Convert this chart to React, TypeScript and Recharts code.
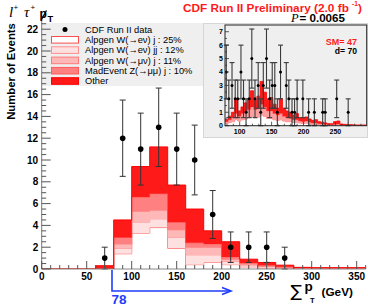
import React from 'react';
import { ComposedChart, Area, Scatter, XAxis, YAxis, ErrorBar } from 'recharts';

// ---------- main histogram (20 GeV bins, lower edges) ----------
const binEdges = [0, 20, 40, 60, 80, 100, 120, 140, 160, 180, 200, 220, 240, 260, 280, 300, 320, 340];
const lastEdge = 360;
const wenuj = [0, 0, 0, 0, 1.4, 3.3, 3.8, 1.9, 0.4, 0.6, 0.4, 0.2, 0.1, 0.05, 0.03, 0.02, 0.02, 0.02];
const wenujj = [0, 0, 0, 0, 0.5, 1.0, 0.8, 1.0, 0.9, 0.7, 0.3, 0.15, 0.1, 0.05, 0.02, 0.02, 0.02, 0.02];
const wmunuj = [0, 0, 0, 0, 0.4, 1.0, 0.8, 0.7, 0.7, 0.7, 0.2, 0.1, 0.05, 0.05, 0.02, 0.02, 0.02, 0.02];
const zmumuj = [0, 0, 0, 0, 0.6, 1.3, 1.5, 0.7, 0.4, 0.3, 0.2, 0.1, 0.1, 0.05, 0.02, 0.02, 0.02, 0.02];
const other = [0, 0, 0, 0.3, 1.6, 2.8, 4.3, 3.4, 3.1, 1.2, 1.4, 0.35, 0.25, 0.15, 0.06, 0.04, 0.04, 0.04];

const dataX = [70, 90, 110, 130, 150, 170, 190, 210, 230, 250, 270];
const dataY = [1, 12, 11, 13, 11, 10, 5, 2, 2, 2, 1];
const dataErr = [1.0, 3.5, 3.3, 3.6, 3.3, 3.2, 2.2, 1.4, 1.4, 1.4, 1.0];

const xMajor = [0, 50, 100, 150, 200, 250, 300, 350];
const yMajor = [0, 2, 4, 6, 8, 10, 12, 14, 16, 18, 20, 22];

// ---------- inset (5 GeV bins) ----------
const insetEdges = [77, 82, 87, 92, 97, 102, 107, 112, 117, 122, 127, 132, 137, 142, 147, 152, 157, 162, 167, 172, 177, 182, 187, 192, 197, 202, 207, 212, 217, 222, 227, 232, 237, 242, 247, 252, 257, 262, 267, 272, 277, 282, 287, 292, 297];
const insetLastEdge = 302;
const insetWhite = [0.15, 0.25, 0.3, 0.45, 0.35, 0.45, 0.5, 0.6, 0.7, 0.6, 0.65, 0.8, 0.7, 0.55, 0.55, 0.45, 0.4, 0.45, 0.35, 0.3, 0.3, 0.25, 0.25, 0.2, 0.15, 0.2, 0.15, 0.1, 0.1, 0.08, 0.07, 0.05, 0.04, 0.04, 0.05, 0.06, 0.03, 0.03, 0.02, 0.02, 0.02, 0.01, 0.01, 0.01, 0.01];
const insetPink = [0.15, 0.2, 0.3, 0.45, 0.35, 0.45, 0.5, 0.6, 0.7, 0.6, 0.65, 0.8, 0.7, 0.55, 0.55, 0.45, 0.4, 0.45, 0.35, 0.3, 0.25, 0.2, 0.2, 0.15, 0.15, 0.15, 0.1, 0.1, 0.1, 0.07, 0.06, 0.05, 0.04, 0.04, 0.05, 0.07, 0.03, 0.02, 0.02, 0.02, 0.01, 0.01, 0.01, 0.01, 0.01];
const insetOther = [0.15, 0.25, 0.4, 1.1, 0.4, 0.5, 0.7, 0.8, 1.2, 0.7, 0.9, 1.7, 1.1, 0.9, 1.0, 0.7, 0.5, 1.1, 0.6, 0.5, 0.45, 0.35, 0.45, 0.25, 0.25, 0.3, 0.25, 0.2, 0.25, 0.15, 0.12, 0.1, 0.07, 0.07, 0.2, 0.22, 0.06, 0.05, 0.04, 0.04, 0.03, 0.03, 0.03, 0.03, 0.03];

const insetPtX = [79, 83, 88, 93, 97, 102, 106, 110, 115, 119, 124, 129, 133, 137, 142, 147, 151, 155, 159, 164, 173, 177, 182, 186, 190, 199, 208, 217, 230, 234, 252, 270];
const insetPtY = [4, 2, 3, 2, 2, 4, 2, 1, 2, 5, 2, 3, 1, 3, 5, 2, 3, 3, 1, 4, 3, 2, 1, 1, 2, 2, 1, 1, 1, 1, 2, 1];
const insetPtErr = [2.0, 1.4, 1.7, 1.4, 1.4, 2.0, 1.4, 1.0, 1.4, 2.2, 1.4, 1.7, 1.0, 1.7, 2.2, 1.4, 1.7, 1.7, 1.0, 2.0, 1.7, 1.4, 1.0, 1.0, 1.4, 1.4, 1.0, 1.0, 1.0, 1.0, 1.4, 1.0];

const insetXMajor = [100, 150, 200, 250];
const insetYMajor = [0, 1, 2, 3, 4, 5, 6, 7];

const legendLabels = [
  'CDF Run II data',
  'Alpgen W(\u2192e\u03BD) j : 25%',
  'Alpgen W(\u2192e\u03BD) jj : 12%',
  'Alpgen W(\u2192\u03BC\u03BD) j : 11%',
  'MadEvent Z(\u2192\u03BC\u03BC) j : 10%',
  'Other',
];

// ---------- styles ----------
const FONT = "'Liberation Sans', Arial, Helvetica, sans-serif";
const SERIF = "'Liberation Serif', 'Times New Roman', serif";
const layerFill = ['#ffffff', '#ffe0e0', '#ffb8b8', '#ff8080', '#ff1a1a'];
const layerStroke = ['#ff4d4d', '#ff9090', '#ff7a7a', '#ff5a5a', '#ff0000'];

// ---------- derived tables ----------
const histRows = [...binEdges, lastEdge].map((e, i) => {
  const k = Math.min(i, binEdges.length - 1);
  return { x: e, a: wenuj[k], b: wenujj[k], c: wmunuj[k], d: zmumuj[k], o: other[k] };
});
const points = dataX.map((x, i) => ({ x, y: dataY[i], err: dataErr[i] }));

const insetRows = [...insetEdges, insetLastEdge].map((e, i) => {
  const k = Math.min(i, insetEdges.length - 1);
  return { x: e, w: insetWhite[k], p: insetPink[k], o: insetOther[k] };
});
const insetPoints = insetPtX.map((x, i) => ({ x, y: insetPtY[i], err: insetPtErr[i] }));

const xTicks: number[] = [];
for (let v = 0; v <= 360; v += 10) xTicks.push(v);
const yTicks: number[] = [];
for (let v = 0; v <= 22.5; v += 0.5) yTicks.push(v);
const ixTicks: number[] = [];
for (let v = 80; v <= 290; v += 10) ixTicks.push(v);
const iyTicks: number[] = [];
for (let v = 0; v <= 7.0001; v += 0.5) iyTicks.push(Math.round(v * 10) / 10);

const TICK = '#555';

const MainXTick = (props: any) => {
  const { x, y, payload } = props;
  const v = payload.value;
  const major = xMajor.includes(v);
  return (
    <g>
      <line x1={x} x2={x} y1={y} y2={y - (major ? 8 : 4)} stroke={TICK} strokeWidth={1} />
      {major && (
        <text x={x} y={y + 11} textAnchor="middle" fontSize={10} fontWeight="bold" fontFamily={FONT} fill="#000">
          {v}
        </text>
      )}
    </g>
  );
};

const MainYTick = (props: any) => {
  const { x, y, payload } = props;
  const v = payload.value;
  const major = yMajor.includes(v);
  return (
    <g>
      <line x1={x} x2={x + (major ? 9 : 4.5)} y1={y} y2={y} stroke={TICK} strokeWidth={1} />
      {major && (
        <text x={x - 3.5} y={y + 3.6} textAnchor="end" fontSize={10} fontWeight="bold" fontFamily={FONT} fill="#000">
          {v}
        </text>
      )}
    </g>
  );
};

const InsetXTick = (props: any) => {
  const { x, y, payload } = props;
  const v = payload.value;
  const major = insetXMajor.includes(v);
  return (
    <g>
      <line x1={x} x2={x} y1={y} y2={y - (major ? 4 : 2)} stroke="#333" strokeWidth={0.8} />
      {major && (
        <text x={x} y={y + 7.8} textAnchor="middle" fontSize={7} fontWeight="bold" fontFamily={FONT} fill="#000">
          {v}
        </text>
      )}
    </g>
  );
};

const InsetYTick = (props: any) => {
  const { x, y, payload } = props;
  const v = payload.value;
  const major = insetYMajor.includes(v);
  return (
    <g>
      <line x1={x} x2={x + (major ? 4 : 2)} y1={y} y2={y} stroke="#333" strokeWidth={0.8} />
      {major && (
        <text x={x - 2} y={y + 2.5} textAnchor="end" fontSize={7} fontWeight="bold" fontFamily={FONT} fill="#000">
          {v}
        </text>
      )}
    </g>
  );
};

const BigDot = (p: any) => <circle cx={p.cx} cy={p.cy} r={2.8} fill="#000" />;
const SmallDot = (p: any) => <circle cx={p.cx} cy={p.cy} r={1.5} fill="#000" />;

const abs = (l: number, t: number, w: number, h: number): React.CSSProperties => ({
  position: 'absolute',
  left: l,
  top: t,
  width: w,
  height: h,
});

export default function App() {
  const keys = ['a', 'b', 'c', 'd', 'o'];
  return (
    <div style={{ ...abs(0, 0, 368, 305), background: '#fff', overflow: 'hidden' }}>
      {/* legend background (under the chart so the axis stays visible) */}
      <svg width={368} height={305} style={abs(0, 0, 368, 305)}>
        <rect x={42} y={23} width={163} height={63} fill="#efefef" />
      </svg>

      {/* main chart */}
      <div style={abs(0, 0, 368, 305)}>
        <ComposedChart width={368} height={305} data={histRows} margin={{ top: 18.3, right: 2.3, bottom: 0, left: 1.7 }}>
          <XAxis
            type="number"
            dataKey="x"
            domain={[0, 360]}
            ticks={xTicks}
            interval={0}
            tickSize={0}
            tickMargin={0}
            tick={MainXTick}
            height={36}
            axisLine={{ stroke: '#888' }}
            allowDataOverflow
          />
          <YAxis
            type="number"
            domain={[0, 23]}
            ticks={yTicks}
            interval={0}
            tickSize={0}
            tickMargin={0}
            tick={MainYTick}
            width={40}
            axisLine={{ stroke: '#777' }}
            allowDataOverflow
          />
          {keys.map((k, i) => (
            <Area
              key={k}
              type="stepAfter"
              dataKey={k}
              stackId="s"
              fill={layerFill[i]}
              fillOpacity={1}
              stroke={layerStroke[i]}
              strokeWidth={1}
              dot={false}
              activeDot={false}
              isAnimationActive={false}
            />
          ))}
          <Scatter data={points} dataKey="y" shape={BigDot} isAnimationActive={false}>
            <ErrorBar dataKey="err" direction="y" width={3} stroke="#333" strokeWidth={1} />
          </Scatter>
        </ComposedChart>
      </div>

      {/* texts and legend items */}
      <svg width={368} height={305} style={abs(0, 0, 368, 305)}>
        {/* top-left formula */}
        <text x={9} y={16.5} fontFamily={SERIF} fontStyle="italic" fontSize={15} fill="#000">l</text>
        <text x={13.5} y={9.5} fontFamily={FONT} fontSize={8} fill="#000">+</text>
        <text x={24} y={16.5} fontFamily={SERIF} fontStyle="italic" fontSize={15} fill="#000">{'\u03C4'}</text>
        <text x={30.5} y={9.5} fontFamily={FONT} fontSize={8} fill="#000">+</text>
        <text x={39.5} y={17.5} fontFamily={FONT} fontWeight="bold" fontSize={12} fill="#000">p</text>
        <line x1={41.2} y1={20} x2={46.5} y2={10.5} stroke="#000" strokeWidth={1.3} />
        <text x={47.5} y={21.8} fontFamily={FONT} fontWeight="bold" fontSize={9.3} fill="#000">T</text>

        {/* title */}
        <text x={183} y={12.3} fontFamily={FONT} fontWeight="bold" fontSize={11.8} fill="#ff1a1a">
          CDF Run II Preliminary (2.0 fb
        </text>
        <text x={352} y={5.5} fontFamily={FONT} fontWeight="bold" fontSize={6.5} fill="#ff1a1a">-1</text>
        <text x={358} y={12.3} fontFamily={FONT} fontWeight="bold" fontSize={11.8} fill="#ff1a1a">)</text>

        {/* P value */}
        <text x={291} y={22.3} fontFamily={SERIF} fontStyle="italic" fontSize={12.5} fill="#000">P</text>
        <text x={299.5} y={22.3} fontFamily={FONT} fontWeight="bold" fontSize={11.6} fill="#000">= 0.0065</text>

        {/* y-axis title */}
        <text
          transform="translate(15,71.5) rotate(-90)"
          textAnchor="middle"
          fontFamily={FONT}
          fontWeight="bold"
          fontSize={11.3}
          fill="#000"
        >
          Number of Events
        </text>

        {/* x-axis title */}
        <text x={290.5} y={297} fontFamily="'DejaVu Sans', sans-serif" fontSize={17} fill="#000">{'\u2211'}</text>
        <text x={304.5} y={290.5} fontFamily={FONT} fontWeight="bold" fontSize={13.5} fill="#000">p</text>
        <text x={310} y={302.5} fontFamily={FONT} fontWeight="bold" fontSize={7.5} fill="#000">T</text>
        <text x={321.5} y={295.5} fontFamily={FONT} fontWeight="bold" fontSize={11.8} fill="#000">(GeV)</text>

        {/* cut marker */}
        <polyline points="112,270 112,291 230,291" fill="none" stroke="#1f3cff" strokeWidth={1.6} />
        <polyline points="222,287.5 231,291 222,294.5" fill="none" stroke="#1f3cff" strokeWidth={1.6} />
        <text x={111.5} y={303.5} fontFamily={FONT} fontWeight="bold" fontSize={13.5} fill="#1f3cff">78</text>

        {/* legend */}
        {legendLabels.map((lab, i) => {
          const cy = 29.5 + i * 10.3;
          return (
            <g key={lab}>
              {i === 0 ? (
                <circle cx={65} cy={cy} r={2.5} fill="#000" />
              ) : (
                <rect
                  x={51.5}
                  y={cy - 3.3}
                  width={27}
                  height={6.6}
                  fill={layerFill[i - 1]}
                  stroke={layerStroke[i - 1]}
                  strokeWidth={1}
                />
              )}
              <text x={85} y={cy + 3.3} fontFamily={FONT} fontSize={9.3} fill="#000">
                {lab}
              </text>
            </g>
          );
        })}
      </svg>

      {/* inset */}
      <div style={{ ...abs(203, 23, 165, 115), background: '#efefef' }}>
        <ComposedChart width={165} height={115} data={insetRows} margin={{ top: 2, right: 1.3, bottom: 0, left: 0 }}>
          <XAxis
            type="number"
            dataKey="x"
            domain={[77, 299]}
            ticks={ixTicks}
            interval={0}
            tickSize={0}
            tickMargin={0}
            tick={InsetXTick}
            height={12.3}
            axisLine={false}
            allowDataOverflow
          />
          <YAxis
            type="number"
            domain={[0, 7.5]}
            ticks={iyTicks}
            interval={0}
            tickSize={0}
            tickMargin={0}
            tick={InsetYTick}
            width={22}
            axisLine={false}
            allowDataOverflow
          />
          <Area type="stepAfter" dataKey="w" stackId="i" fill="#ffffff" fillOpacity={1} stroke="#ff6666" strokeWidth={0.8} dot={false} activeDot={false} isAnimationActive={false} />
          <Area type="stepAfter" dataKey="p" stackId="i" fill="#ffa0a0" fillOpacity={1} stroke="#ff7070" strokeWidth={0.8} dot={false} activeDot={false} isAnimationActive={false} />
          <Area type="stepAfter" dataKey="o" stackId="i" fill="#ff1a1a" fillOpacity={1} stroke="#ff0000" strokeWidth={0.8} dot={false} activeDot={false} isAnimationActive={false} />
          <Scatter data={insetPoints} dataKey="y" shape={SmallDot} isAnimationActive={false}>
            <ErrorBar dataKey="err" direction="y" width={2.5} stroke="#3a3a3a" strokeWidth={1.1} />
          </Scatter>
        </ComposedChart>
      </div>

      {/* inset frame and labels */}
      <svg width={368} height={305} style={abs(0, 0, 368, 305)}>
        <rect x={203.5} y={23.5} width={164} height={114} fill="none" stroke="#d6d6d6" strokeWidth={1} />
        <rect x={225} y={25} width={141.7} height={100.7} fill="none" stroke="#222" strokeWidth={1} />
        <text x={357} y={45} textAnchor="end" fontFamily={FONT} fontWeight="bold" fontSize={9} fill="#ff1a1a">SM= 47</text>
        <text x={357} y={53.5} textAnchor="end" fontFamily={FONT} fontWeight="bold" fontSize={8.6} fill="#000">d= 70</text>
      </svg>
    </div>
  );
}
